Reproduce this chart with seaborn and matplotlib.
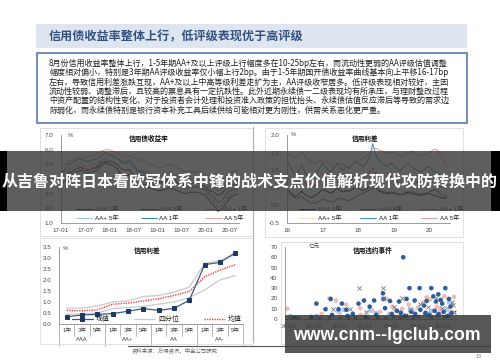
import numpy as np
import pandas as pd
import matplotlib
matplotlib.use("Agg")
import matplotlib.pyplot as plt
import seaborn as sns
from matplotlib.patches import Rectangle
from matplotlib.lines import Line2D

# ---------------- DATA ----------------
title_text = "信用债收益率整体上行，低评级表现优于高评级"
para_lines = [
    "8月份信用收益率整体上行，1-5年期AA+及以上评级上行幅度多在10-25bp左右，而流动性更弱的AA评级估值调整",
    "幅度相对偏小，特别是3年期AA评级收益率仅小幅上行2bp。由于1-5年期国开债收益率曲线基本向上平移16-17bp",
    "左右，导致信用利差涨跌互现，AA+及以上中高等级利差走扩为主，AA评级收窄居多。低评级表现相对较好，主因",
    "流动性较弱、调整滞后，且较高的票息具有一定抗跌性。此外近期永续债一二级表现均有所承压，与理财整改过程",
    "中资产配置的结构性变化、对于投资者会计处理和投资准入政策的担忧抬头、永续债估值反应滞后等导致的需求边",
    "际弱化，而永续债特别是银行资本补充工具后续供给可能相对更为刚性，供需关系恶化更严重。",
]
banner_text = "从吉鲁对阵日本看欧冠体系中锋的战术支点价值解析现代攻防转换中的"
watermark_text = "www.cnm--lgclub.com"
source_text = "资料来源：万得资讯，中金公司研究"

# Top-left: 信用债收益率 (monthly, 17-01 .. 20-09)
yield_ticks = ["17-01", "17-07", "18-01", "18-07", "19-01", "19-07", "20-01", "20-07"]
aaa_1y = [3.6,3.9,4.2,4.3,4.5,4.6,4.4,4.4,4.5,4.6,4.9,5.1,5.0,4.9,4.7,4.3,4.2,4.3,3.8,3.5,3.6,3.6,3.4,3.3,
          3.2,3.2,3.3,3.4,3.3,3.2,3.1,3.0,3.1,3.1,3.1,3.0,2.9,2.5,2.2,1.8,1.9,2.3,2.7,2.9,3.0]
aaa_5y = [4.0,4.2,4.4,4.5,4.7,4.8,4.6,4.6,4.7,4.8,5.1,5.2,5.2,5.1,5.0,4.7,4.6,4.6,4.3,4.1,4.2,4.2,4.0,3.9,
          3.8,3.8,3.9,4.0,3.9,3.8,3.7,3.6,3.7,3.7,3.7,3.6,3.5,3.2,3.1,2.9,3.0,3.3,3.5,3.6,3.6]
aap_1y = [3.9,4.2,4.5,4.6,4.8,4.9,4.7,4.7,4.8,4.9,5.2,5.4,5.3,5.2,5.0,4.7,4.6,4.7,4.2,3.9,3.9,3.9,3.7,3.6,
          3.5,3.5,3.6,3.7,3.6,3.5,3.4,3.3,3.4,3.4,3.4,3.3,3.2,2.8,2.5,2.1,2.2,2.6,2.9,3.1,3.2]
aap_5y = [4.3,4.5,4.7,4.8,5.0,5.1,4.9,4.9,5.0,5.1,5.4,5.6,5.6,5.5,5.4,5.1,5.0,5.1,4.8,4.5,4.6,4.6,4.4,4.3,
          4.2,4.2,4.3,4.4,4.3,4.2,4.0,3.9,4.0,4.0,4.0,3.9,3.8,3.5,3.4,3.2,3.3,3.6,3.8,3.9,3.9]
aa_1y = [4.4,4.7,5.0,5.1,5.3,5.4,5.2,5.2,5.3,5.4,5.6,5.8,5.7,5.6,5.4,5.2,5.1,5.3,5.0,4.6,4.5,4.4,4.2,4.0,
         3.8,3.7,3.8,3.9,3.8,3.7,3.6,3.4,3.5,3.5,3.5,3.4,3.3,3.0,2.8,2.4,2.5,2.9,3.2,3.3,3.4]
aa_5y = [4.8,5.0,5.2,5.3,5.5,5.6,5.5,5.5,5.6,5.7,5.9,6.0,6.0,5.9,5.8,5.6,5.5,5.6,5.5,5.3,5.3,5.2,5.0,4.9,
         4.8,4.8,4.9,5.0,4.9,4.8,4.6,4.5,4.5,4.5,4.5,4.4,4.3,4.0,3.9,3.7,3.8,4.1,4.4,4.5,4.6]

# Top-right: 信用利差 (monthly, 16-01 .. 20-07)
spread_ticks = ["16", "17", "18", "19", "20"]
sp_aaa_1y = [0.45,0.38,0.30,0.25,0.32,0.40,0.32,0.25,0.22,0.25,0.30,0.38,
             0.45,0.42,0.38,0.35,0.42,0.50,0.42,0.38,0.42,0.40,0.45,0.50,
             0.50,0.45,0.42,0.48,0.55,0.62,0.50,0.42,0.38,0.35,0.33,0.36,
             0.35,0.32,0.30,0.32,0.35,0.38,0.34,0.32,0.30,0.28,0.30,0.32,
             0.35,0.30,0.28,0.25,0.22,0.20,0.22]
sp_aaa_5y = [0.35,0.30,0.25,0.20,0.22,0.25,0.18,0.12,0.08,0.06,0.08,0.12,
             0.18,0.15,0.12,0.10,0.12,0.18,0.20,0.18,0.15,0.14,0.18,0.22,
             0.28,0.32,0.35,0.40,0.45,0.50,0.48,0.42,0.40,0.38,0.36,0.38,
             0.36,0.34,0.32,0.30,0.32,0.35,0.38,0.36,0.34,0.32,0.33,0.35,
             0.38,0.42,0.45,0.40,0.32,0.28,0.25]
sp_aap_1y = [0.80,0.70,0.60,0.55,0.65,0.75,0.65,0.55,0.50,0.55,0.60,0.70,
             0.80,0.75,0.70,0.65,0.75,0.85,0.75,0.70,0.75,0.72,0.80,0.85,
             0.85,0.80,0.78,0.85,0.95,1.05,0.90,0.80,0.75,0.72,0.70,0.75,
             0.72,0.68,0.65,0.68,0.72,0.75,0.70,0.68,0.65,0.62,0.65,0.68,
             0.70,0.65,0.60,0.55,0.52,0.50,0.48]
sp_aap_5y = [0.85,0.80,0.75,0.70,0.75,0.80,0.72,0.65,0.60,0.58,0.60,0.65,
             0.70,0.68,0.65,0.62,0.60,0.65,0.68,0.65,0.62,0.60,0.65,0.70,
             0.75,0.78,0.82,0.85,0.90,0.95,0.92,0.88,0.85,0.82,0.80,0.82,
             0.80,0.78,0.75,0.72,0.75,0.78,0.80,0.78,0.75,0.72,0.74,0.76,
             0.80,0.85,0.90,0.85,0.75,0.68,0.62]
sp_aa_1y = [1.30,1.10,0.95,0.85,1.00,1.15,0.95,0.80,0.75,0.80,0.90,1.05,
            1.20,1.10,1.00,0.95,1.10,1.20,1.05,1.00,1.10,1.05,1.15,1.25,
            1.20,1.15,1.10,1.25,1.40,1.75,1.45,1.30,1.20,1.15,1.10,1.20,
            1.15,1.05,1.00,1.05,1.15,1.20,1.10,1.05,1.00,0.95,1.00,1.05,
            1.10,1.00,0.95,0.90,0.85,0.80,0.75]
sp_aa_5y = [1.50,1.45,1.40,1.35,1.45,1.50,1.40,1.30,1.25,1.20,1.20,1.25,
            1.30,1.25,1.20,1.15,1.10,1.15,1.20,1.15,1.10,1.10,1.15,1.20,
            1.25,1.30,1.35,1.40,1.50,1.60,1.62,1.58,1.55,1.50,1.48,1.52,
            1.50,1.45,1.42,1.40,1.45,1.50,1.55,1.50,1.45,1.40,1.42,1.45,
            1.50,1.55,1.60,1.55,1.40,1.25,1.10]

# Bottom-left: 信用利差 by rating / tenor
tenors = ["1年", "3年", "5年"] * 4
ratings = ["AAA", "AA+", "AA", "AA-"]
cur_val = [0.33, 0.41, 0.44, 0.47, 0.58, 0.70, 0.62, 0.71, 1.08, 2.70, 2.80, 3.24]
q_upper = [0.72, 0.72, 0.82, 1.00, 1.05, 1.25, 1.30, 1.45, 1.68, 2.75, 2.88, 3.15]
q_lower = [0.45, 0.45, 0.50, 0.70, 0.75, 0.80, 0.90, 1.00, 1.20, 1.55, 2.00, 2.20]
mean_val = [0.62, 0.60, 0.65, 0.90, 0.95, 1.05, 1.15, 1.30, 1.48, 2.15, 2.45, 2.70]

# Bottom-right: 信用违约事件 (亿元)
default_ticks = ["14-03", "15-03", "16-03", "17-03", "18-03", "19-03", "20-03"]
blue_x = [2015.30,2015.85,2015.65,2016.15,2016.28,2016.45,2016.92,2017.13,2017.35,2017.52,2017.86,2017.88,
          2017.94,2018.13,2018.48,2018.64,2018.77,2018.88,2019.08,2019.27,2019.44,2019.54,2019.72,2019.80,
          2019.90,2019.99,2020.08,2020.14,2020.26,2020.40,2020.46,
          2014.45,2015.10,2015.90,2016.50,2016.70,2017.20,2017.60,2018.20,2018.40,2018.55,2018.70,2018.95,
          2019.10,2019.30,2019.50,2019.65,2019.85,2020.00,2020.20,2020.35,2020.50]
blue_y = [15,19.5,9.5,9.5,15,9,15,18,12,18,25,19.5,
          10.5,17.5,17,60,19.5,30,18,30,13,17.5,30,22,
          17,24,18.5,15,30,19.5,12,
          1,2,4,3,5,2,4,5,8,6,3,7,
          5,9,6,4,8,5,7,3,6]
pink_x = [2014.18,2015.50,2015.80,2016.05,2016.45,2016.98,2017.45,2017.75,2018.00,2018.22,2018.35,2018.60,
          2018.85,2019.00,2019.20,2019.40,2019.54,2019.67,2019.78,2019.93,2020.05,2020.22,2020.35,2020.50,
          2020.59,2020.55,2016.20,2017.00,2018.50,2019.60,2020.10]
pink_y = [10,5,20,18,14,10.5,8,7,19.5,12,8,10,
          14,9,11,16,21,19,8,12,10,22,9,14,
          21.5,6,6,4,4,3,5]
lblue_x = [2014.30,2015.30,2016.14,2016.35,2017.36,2017.60,2018.10,2018.90,2019.70,2020.40,2020.30]
lblue_y = [3,3,7.5,9,8,6,5,9,7,16,10]
gx_x = [2016.92,2017.88,2017.88,2015.95,2018.58,2016.60,2017.20,2018.30,2019.30,2019.90,2020.50,
        2019.60,2018.90,2020.15,2020.55]
gx_y = [30,30,20,10,20,10,7,12,15,20,17,12,10,11,14]
kx_x = [2014.30,2014.60,2015.10,2015.40,2015.80,2016.20,2016.50,2016.80,2017.30,2017.65,2017.95,
        2018.25,2018.50,2018.75,2019.00,2019.20,2019.45,2019.70,2019.95,2020.20,2020.45,2020.60]
kx_y = [0.5,1,0.5,1,2,0.5,1,2,1,2,1,3,1,4,2,3,5,2,4,3,5,7]

# ---------------- STYLE ----------------
sns.set_theme(style="white")
plt.rcParams["font.family"] = ["Liberation Sans", "Noto Sans CJK SC", "DejaVu Sans"]
plt.rcParams["axes.unicode_minus"] = False

W, H = 500, 362
fig = plt.figure(figsize=(5.0, 3.62), dpi=100)
fig.patch.set_facecolor("white")


def rect(l, t, r, b):
    return [l / W, 1 - b / H, (r - l) / W, (b - t) / H]


def fxy(x, y):
    return x / W, 1 - y / H


def style_axes(ax):
    for s in ["top", "right"]:
        ax.spines[s].set_visible(False)
    for s in ["left", "bottom"]:
        ax.spines[s].set_color("#8c8c8c")
        ax.spines[s].set_linewidth(0.6)
    ax.tick_params(axis="both", labelsize=4.5, colors="#8c8c8c", labelcolor="#444444",
                   length=2, width=0.5, direction="out", pad=1.5)
    ax.tick_params(axis="y", pad=3.5)
    ax.set_facecolor("none")
    ax.grid(False)
    ax.set_xlabel("")
    ax.set_ylabel("")


# ---------- page decorations ----------
fig.add_artist(Rectangle(fxy(36, 48), 431 / W, 24 / H, transform=fig.transFigure,
                         facecolor="#dde6f0", edgecolor="none", zorder=1))
fig.text(*fxy(49, 36.5), title_text, fontsize=8.7, color="#33507f", fontweight="bold",
         ha="left", va="center", family=["Noto Sans CJK SC"], zorder=2)
fig.add_artist(Rectangle(fxy(36.5, 123), 430 / W, 70 / H, transform=fig.transFigure,
                         facecolor="white", edgecolor="#4a6ea3", linewidth=1.1, zorder=1))
for i, line in enumerate(para_lines):
    fig.text(*fxy(49, 63.5 + i * 9.3), line, fontsize=5.8, color="#222222",
             ha="left", va="center", family=["Noto Sans CJK SC"], zorder=2)

# chart frames / separators
for (l, t, r, b) in [(40, 128, 253, 236), (40, 238, 253, 344), (265, 128, 463, 237), (281, 242, 463, 344)]:
    fig.add_artist(Rectangle(fxy(l, b), (r - l) / W, (b - t) / H, transform=fig.transFigure,
                             facecolor="none", edgecolor="#dcdcdc", linewidth=0.6, zorder=0.5))
fig.add_artist(Line2D([253 / W, 253 / W], [1 - 127 / H, 1 - 342 / H], transform=fig.transFigure,
                      color="#b5b5b5", linewidth=0.9, zorder=0.6))
fig.add_artist(Line2D([128 / W, 490 / W], [1 - 345.5 / H, 1 - 345.5 / H], transform=fig.transFigure,
                      color="#555555", linewidth=0.8, zorder=0.6))
fig.text(*fxy(132, 350.5), source_text, fontsize=3.9, color="#666666", ha="left", va="center",
         family=["Noto Sans CJK SC"])
fig.text(*fxy(479, 357), "13", fontsize=3.8, color="#777777", ha="center", va="center")

# ---------- Top-left: 信用债收益率 ----------
ax1 = fig.add_axes(rect(61, 135, 239, 223))
m1 = np.arange(len(aaa_1y))
tl_series = [("AAA 1年", aaa_1y, "#1f3864", "-"), ("AAA 5年", aaa_5y, "#3f3f3f", "-"),
             ("AA+ 1年", aap_1y, "#d07070", "--"), ("AA+ 5年", aap_5y, "#9dc3e6", "-"),
             ("AA 1年", aa_1y, "#31859c", "-"), ("AA 5年", aa_5y, "#e3a09c", "-")]
for name, vals, col, ls in tl_series:
    sns.lineplot(x=m1, y=vals, ax=ax1, color=col, linestyle=ls, linewidth=0.7, label=name)
ax1.set_xlim(0, 44.3)
ax1.set_ylim(1.0, 7.0)
ax1.set_yticks(np.arange(1.0, 7.01, 1.0))
ax1.set_yticklabels([f"{v:.1f}" for v in np.arange(1.0, 7.01, 1.0)])
ax1.set_xticks(np.arange(0, 43, 6))
ax1.set_xticklabels(yield_ticks)
style_axes(ax1)
h, l = ax1.get_legend_handles_labels()
order = [0, 3, 1, 4, 2, 5]
ax1.legend([h[i] for i in order], [l[i] for i in order], ncol=3, loc="upper left",
           bbox_to_anchor=(0.084, 0.19), frameon=False, fontsize=4.5, handlelength=2.6,
           handletextpad=0.4, columnspacing=3.6, labelspacing=0.55, borderpad=0, borderaxespad=0)
fig.text(*fxy(149, 138.5), "信用债收益率", fontsize=4.8, fontweight="bold", color="#111111",
         ha="center", va="center", family=["Noto Sans CJK SC"])
fig.text(*fxy(70, 136), "%", fontsize=4.3, color="#444444", ha="center", va="center")

# ---------- Top-right: 信用利差 (time series) ----------
ax2 = fig.add_axes(rect(287, 135, 450, 223))
m2 = np.arange(len(sp_aa_5y))
tr_series = [("AAA 1年", sp_aaa_1y, "#1a1a1a", "-"), ("AAA 5年", sp_aaa_5y, "#6a6a6a", "-"),
             ("AA+ 1年", sp_aap_1y, "#c0504d", "--"), ("AA+ 5年", sp_aap_5y, "#e0b070", ":"),
             ("AA 1年", sp_aa_1y, "#3b8dbd", "-"), ("AA 5年", sp_aa_5y, "#e39b9b", "-")]
for name, vals, col, ls in tr_series:
    sns.lineplot(x=m2, y=vals, ax=ax2, color=col, linestyle=ls, linewidth=0.7, label=name)
ax2.set_xlim(0, 55.1)
ax2.set_ylim(-0.5, 2.0)
ax2.set_yticks(np.arange(-0.5, 2.01, 0.5))
ax2.set_yticklabels([f"{v:.1f}" for v in np.arange(-0.5, 2.01, 0.5)])
ax2.set_xticks(np.arange(0, 49, 12))
ax2.set_xticklabels(spread_ticks)
style_axes(ax2)
h, l = ax2.get_legend_handles_labels()
ax2.legend([h[i] for i in order], [l[i] for i in order], ncol=3, loc="upper left",
           bbox_to_anchor=(0.074, 0.185), frameon=False, fontsize=4.5, handlelength=2.6,
           handletextpad=0.4, columnspacing=3.0, labelspacing=0.55, borderpad=0, borderaxespad=0)
fig.text(*fxy(365, 138.5), "信用利差", fontsize=4.8, fontweight="bold", color="#111111",
         ha="center", va="center", family=["Noto Sans CJK SC"])
fig.text(*fxy(293, 134.5), "%", fontsize=4.3, color="#444444", ha="center", va="center")

# ---------- Bottom-left: 信用利差 by category ----------
ax3 = fig.add_axes(rect(59, 247, 243, 324))
cx = np.arange(len(cur_val))
sns.lineplot(x=cx, y=q_upper, ax=ax3, color="#c9c9c9", linewidth=0.9, label="四分位")
sns.lineplot(x=cx, y=q_lower, ax=ax3, color="#c9c9c9", linewidth=0.9)
sns.lineplot(x=cx, y=mean_val, ax=ax3, color="#ff3b3b", linewidth=1.0, linestyle=(0, (1, 0.8)),
             label="均值")
sns.lineplot(x=cx, y=cur_val, ax=ax3, color="#3a5a8c", linewidth=0.9, marker="s", markersize=2.8,
             markerfacecolor="#1f3864", markeredgecolor="#1f3864", label="现值")
ax3.set_xlim(-0.5, 11.5)
ax3.set_ylim(0, 3.5)
ax3.set_yticks(np.arange(0, 3.51, 0.5))
ax3.set_yticklabels([f"{v:.1f}" for v in np.arange(0, 3.51, 0.5)])
ax3.set_xticks(cx)
ax3.set_xticklabels(tenors)
style_axes(ax3)
ax3.tick_params(axis="x", length=0, pad=3.0, labelsize=4.2)
xt = ax3.get_xaxis_transform()
for b in np.arange(-0.5, 11.6, 1.0):
    is_group = (b + 0.5) % 3 == 0
    ax3.plot([b, b], [0, -0.29 if is_group else -0.15], transform=xt, color="#9a9a9a",
             linewidth=0.5, clip_on=False)
for gi, g in enumerate(ratings):
    ax3.text(gi * 3 + 1, -0.2, g, transform=xt, fontsize=4.2, color="#444444", ha="center", va="center")
h, l = ax3.get_legend_handles_labels()
lab_order = [l.index("现值"), l.index("四分位"), l.index("均值")]
ax3.legend([h[i] for i in lab_order], [l[i] for i in lab_order], ncol=3, loc="upper left",
           bbox_to_anchor=(0.07, 0.115), frameon=False, fontsize=5.0, handlelength=3.0,
           handletextpad=0.4, columnspacing=3.6, borderpad=0, borderaxespad=0,
           prop={"family": ["Noto Sans CJK SC"], "size": 5.0})
fig.text(*fxy(147, 250), "信用利差", fontsize=4.8, fontweight="bold", color="#111111",
         ha="center", va="center", family=["Noto Sans CJK SC"])
fig.text(*fxy(65, 249), "%", fontsize=4.3, color="#444444", ha="center", va="center")

# ---------- Bottom-right: 信用违约事件 ----------
ax4 = fig.add_axes(rect(285, 247, 457, 319))
sns.scatterplot(x=kx_x, y=kx_y, ax=ax4, marker="x", color="#222222", s=7, linewidth=0.6)
sns.scatterplot(x=pink_x, y=pink_y, ax=ax4, color="#f0b4ac", s=11, edgecolor="none", alpha=0.9)
sns.scatterplot(x=lblue_x, y=lblue_y, ax=ax4, color="#a9cbea", s=11, edgecolor="none")
sns.scatterplot(x=blue_x, y=blue_y, ax=ax4, color="#2c5e9e", s=11, edgecolor="none")
sns.scatterplot(x=gx_x, y=gx_y, ax=ax4, marker="x", color="#7a7a7a", s=9, linewidth=0.6)
ax4.set_xlim(2014.09, 2020.71)
ax4.set_ylim(0, 70)
ax4.set_yticks(np.arange(0, 71, 10))
ax4.set_xticks([2014.17 + k for k in range(7)])
ax4.set_xticklabels(default_ticks)
style_axes(ax4)
fig.text(*fxy(373, 250), "信用违约事件", fontsize=4.8, fontweight="bold", color="#111111",
         ha="center", va="center", family=["Noto Sans CJK SC"])
fig.text(*fxy(314, 246), "亿元", fontsize=4.0, color="#444444", ha="center", va="center",
         family=["Noto Sans CJK SC"])

# ---------- overlays: banner & watermark ----------
fig.add_artist(Rectangle(fxy(7, 211), 484 / W, 60 / H, transform=fig.transFigure,
                         facecolor="#3a3a3a", edgecolor="none", alpha=0.82, zorder=10))
fig.add_artist(Rectangle(fxy(0, 211), 7 / W, 60 / H, transform=fig.transFigure,
                         facecolor="#000000", edgecolor="none", zorder=10))
fig.add_artist(Rectangle(fxy(491, 211), 9 / W, 60 / H, transform=fig.transFigure,
                         facecolor="#000000", edgecolor="none", zorder=10))
fig.text(*fxy(250, 181.5), banner_text, fontsize=11.5, fontweight="bold", color="white",
         ha="center", va="center", family=["Noto Sans CJK SC"], zorder=11)

fig.add_artist(Rectangle(fxy(285, 353), 206 / W, 38 / H, transform=fig.transFigure,
                         facecolor="#3a3a3a", edgecolor="none", alpha=0.85, zorder=10))
fig.text(*fxy(387, 336), watermark_text, fontsize=12.7, fontweight="bold", color="white",
         ha="center", va="center", family=["Liberation Sans"], zorder=11)

fig.savefig("out.png", dpi=100, facecolor="white")
